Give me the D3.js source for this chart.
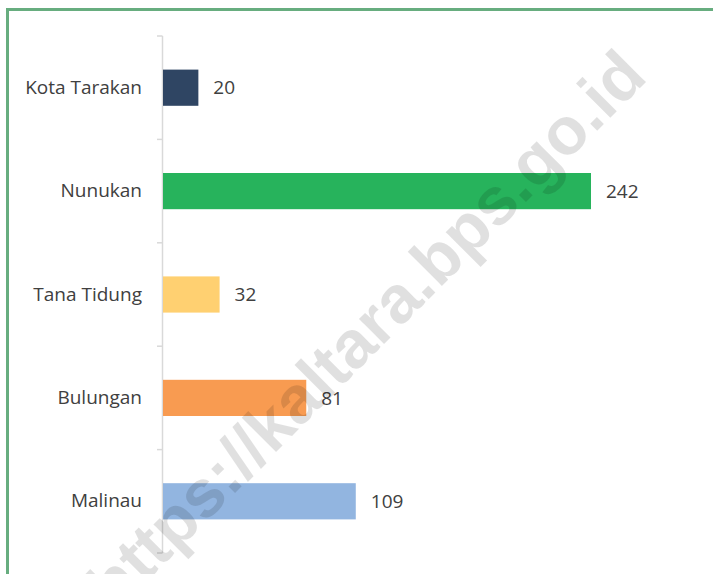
<!DOCTYPE html>
<html>
<head>
<meta charset="utf-8">
<script src="https://cdn.jsdelivr.net/npm/d3@7"></script>
<style>
  body { margin: 0; background: #fff; }
  text { font-family: "Open Sans", sans-serif; }
</style>
</head>
<body>
<div id="chart"></div>
<script>
var width = 713,
    height = 574;

// data
var regions = ["Kota Tarakan", "Nunukan", "Tana Tidung", "Bulungan", "Malinau"];
var counts = [20, 242, 32, 81, 109];
var barColors = ["#2f4563", "#27b35c", "#ffd071", "#f89b51", "#92b5e0"];

var svg = d3.select("#chart")
    .append("svg")
    .attr("width", width)
    .attr("height", height);

// green frame, runs off the right and bottom
svg.append("rect")
    .attr("x", 7.5)
    .attr("y", 9.5)
    .attr("width", 800)
    .attr("height", 700)
    .attr("fill", "none")
    .attr("stroke", "#67ad7f")
    .attr("stroke-width", 3);

var y = d3.scaleBand()
    .domain(regions)
    .range([36, 553])
    .paddingInner(0.65)
    .paddingOuter(0.325);

var x = d3.scaleLinear()
    .domain([0, 242])
    .range([163, 591]);

var g = svg.append("g");

// category labels
var yAxis = g.append("g")
    .attr("transform", "translate(162,0)")
    .call(d3.axisLeft(y).tickSize(0).tickPadding(20));
yAxis.select(".domain").remove();
yAxis.selectAll("text")
    .style("font-family", "'Open Sans', sans-serif")
    .style("font-size", "19px")
    .style("fill", "#404040");

// axis line + tick marks between categories
var step = y.step();
var bounds = regions.map(function(d){ return y(d) - step * 0.325; });
bounds.push(bounds[bounds.length - 1] + step);

g.append("line")
    .attr("x1", 162.5).attr("x2", 162.5)
    .attr("y1", bounds[0]).attr("y2", bounds[bounds.length - 1])
    .attr("stroke", "#d9d9d9")
    .attr("stroke-width", 1.5);

g.selectAll(".tick-b")
    .data(bounds)
    .enter().append("line")
    .attr("class", "tick-b")
    .attr("x1", 157).attr("x2", 162.5)
    .attr("y1", function(d){ return d; })
    .attr("y2", function(d){ return d; })
    .attr("stroke", "#d9d9d9")
    .attr("stroke-width", 1.5);

// bars
g.selectAll(".bar")
    .data(regions)
    .enter().append("rect")
    .attr("class", "bar")
    .attr("x", x(0))
    .attr("y", function(d){ return y(d); })
    .attr("width", function(d, i){ return x(counts[i]) - x(0); })
    .attr("height", y.bandwidth())
    .attr("fill", function(d, i){ return barColors[i]; });

// value labels
g.selectAll(".val")
    .data(regions)
    .enter().append("text")
    .attr("class", "val")
    .attr("x", function(d, i){ return x(counts[i]) + 15; })
    .attr("y", function(d){ return y(d) + y.bandwidth() / 2; })
    .attr("dy", "0.35em")
    .style("font-size", "19px")
    .style("fill", "#404040")
    .text(function(d, i){ return counts[i]; });

// watermark
svg.append("text")
    .attr("transform", "translate(382,346) rotate(-45)")
    .attr("text-anchor", "middle")
    .style("font-family", "'Liberation Sans', Arial, sans-serif")
    .style("font-weight", "bold")
    .style("font-size", "67px")
    .style("fill", "#000")
    .style("fill-opacity", 0.12)
    .text("https://kaltara.bps.go.id");
</script>
</body>
</html>
